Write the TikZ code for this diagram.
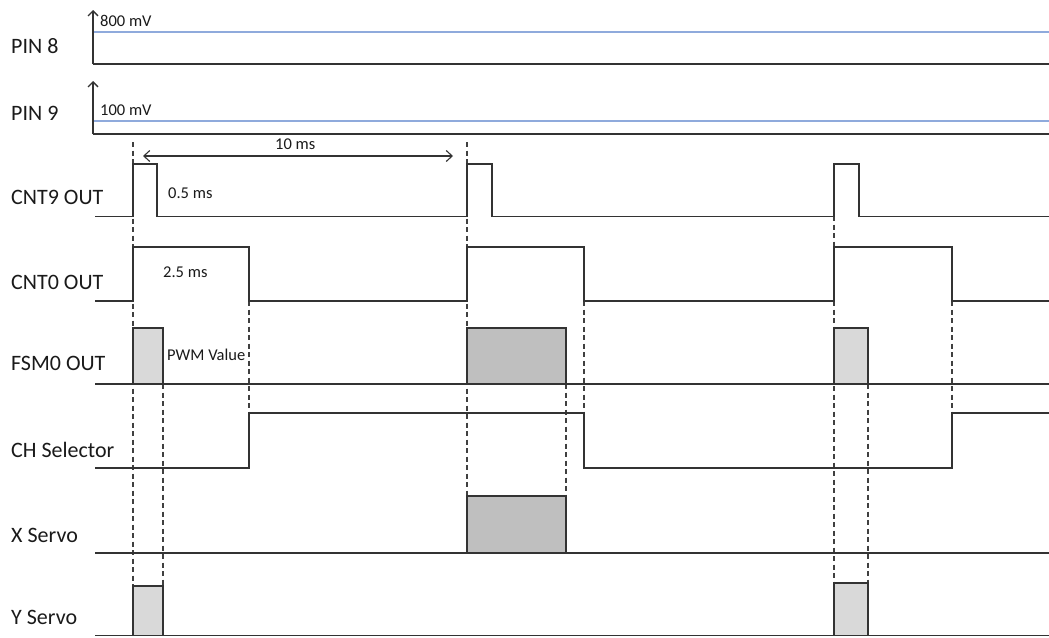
\documentclass[tikz,border=0pt]{standalone}
\usepackage{fontspec}
\setmainfont{Carlito}
\usetikzlibrary{arrows.meta}
\definecolor{pinblue}{HTML}{8FAADC}
\definecolor{ink}{HTML}{1A1A1A}
\begin{document}
\begin{tikzpicture}[x=1pt,y=-1pt,
  sig/.style={line width=1.3pt, draw=black!80, line join=miter},
  guide/.style={line width=1.1pt, draw=black!75, dash pattern=on 5pt off 3.5pt},
  lbl/.style={anchor=base west, inner sep=0pt, font=\fontsize{22}{25}\selectfont, text=ink},
  small/.style={anchor=base west, inner sep=0pt, font=\fontsize{16.5}{19}\selectfont, text=ink},
  lightfill/.style={fill=gray!30},
  darkfill/.style={fill=gray!50},
  level/.style={line width=1.5pt, draw=pinblue},
  barb/.style={-{Straight Barb[length=5pt,width=10pt]}},
]
\useasboundingbox (0,0) rectangle (1049,637);

% labels
\node[lbl] (l8)  at (11,53.5) {PIN 8};
\node[lbl] (l9)  at (11,120.5) {PIN 9};
\node[lbl] (lc9) at (11,204) {CNT9 OUT};
\node[lbl] (lc0) at (11,289) {CNT0 OUT};
\node[lbl] (lf0) at (11,370) {FSM0 OUT};
\node[lbl] (lch) at (11,457) {CH Selector};
\node[lbl] (lx)  at (11,542) {X Servo};
\node[lbl] (ly)  at (11,624) {Y Servo};

% PIN 8 / PIN 9 axes
\coordinate (o8) at (93,64);
\coordinate (t8) at (93,10);
\coordinate (o9) at (93,134);
\coordinate (t9) at (93,81);
\draw[sig,barb] (o8) -- (t8);
\draw[sig] (o8) -- (1049,64);
\draw[level] (94,32) -- (1049,32);
\node[small] (v8) at (100,26) {800 mV};
\draw[sig,barb] (o9) -- (t9);
\draw[sig] (o9) -- (1049,134);
\draw[level] (94,121) -- (1049,121);
\node[small] (v9) at (100,115) {100 mV};

% guide lines
\draw[guide] (133,142) -- (133,586);
\draw[guide] (163,384) -- (163,586);
\draw[guide] (249,301) -- (249,413);
\draw[guide] (467,142) -- (467,496);
\draw[guide] (566,384) -- (566,496);
\draw[guide] (584,301) -- (584,413);
\draw[guide] (834,216) -- (834,583);
\draw[guide] (868,384) -- (868,583);
\draw[guide] (952,301) -- (952,413);

% dimension 10 ms
\coordinate (da) at (143,156);
\coordinate (db) at (453,156);
\draw[line width=1.1pt, draw=black!80, {Straight Barb[length=6pt,width=11pt]}-{Straight Barb[length=6pt,width=11pt]}] (da) -- (db);
\node[small] (t10) at (275,149.5) {10 ms};

% CNT9 OUT
\draw[sig] (95,216.5) -- (133,216.5) -- (133,164) -- (157,164) -- (157,216.5)
  -- (467,216.5) -- (467,164) -- (492,164) -- (492,216.5)
  -- (834,216.5) -- (834,164) -- (859,164) -- (859,216.5) -- (1049,216.5);
\node[small] (t05) at (168,198) {0.5 ms};

% CNT0 OUT
\draw[sig] (95,301) -- (133,301) -- (133,247) -- (249,247) -- (249,301)
  -- (467,301) -- (467,247) -- (584,247) -- (584,301)
  -- (834,301) -- (834,247) -- (952,247) -- (952,301) -- (1049,301);
\node[small] (t25) at (163,277) {2.5 ms};

% FSM0 OUT
\draw[sig,lightfill] (133,384) rectangle (163,328);
\draw[sig,darkfill] (467,384) rectangle (566,328);
\draw[sig,lightfill] (834,384) rectangle (868,328);
\draw[sig] (95,384) -- (1049,384);
\node[small] (tpwm) at (167,360) {PWM Value};

% CH Selector
\draw[sig] (95,468) -- (249,468) -- (249,413) -- (584,413) -- (584,468)
  -- (952,468) -- (952,413) -- (1049,413);

% X Servo
\draw[sig,darkfill] (467,553) rectangle (566,496);
\draw[sig] (95,553) -- (1049,553);

% Y Servo
\draw[sig,lightfill] (133,635.5) rectangle (163,586);
\draw[sig,lightfill] (834,635.5) rectangle (868,583);
\draw[sig] (95,635.5) -- (1049,635.5);
\end{tikzpicture}
\end{document}
